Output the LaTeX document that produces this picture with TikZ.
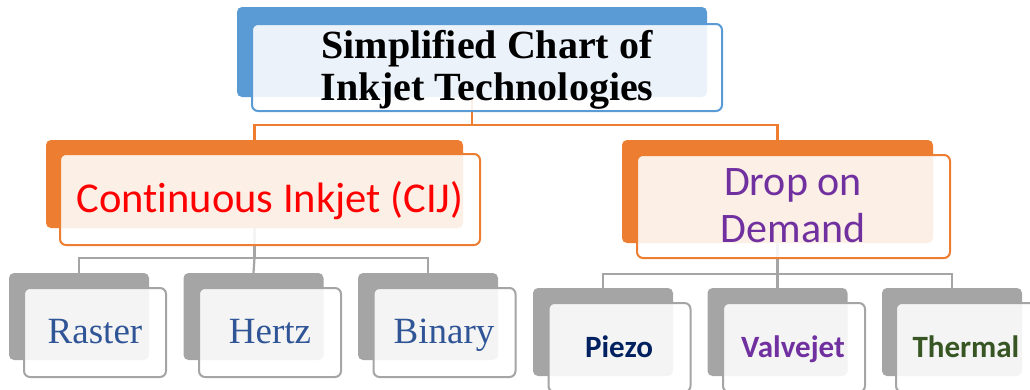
\documentclass[tikz,border=0pt]{standalone}
\usepackage{fontspec}
\setmainfont{Liberation Serif}
\newfontfamily\carlito[Ligatures=NoCommon]{Carlito}
\definecolor{cblue}{HTML}{5B9BD5}
\definecolor{corange}{HTML}{ED7D31}
\definecolor{cgray}{HTML}{A5A5A5}
\definecolor{cleaf}{HTML}{2F5597}
\definecolor{cnavy}{HTML}{002060}
\definecolor{cpurple}{HTML}{7030A0}
\definecolor{cgreen}{HTML}{375623}
\definecolor{cred}{HTML}{FF0000}
\tikzset{
  backbox/.style={rectangle, rounded corners=5pt, inner sep=0pt, fill=#1},
  frontbox/.style={rectangle, rounded corners=6pt, inner sep=0pt, draw=#1, line width=2pt, fill=white, fill opacity=0.88},
  conn/.style={draw=#1, line width=2.2pt},
  lbl/.style={anchor=base, inner sep=0pt},
}
\begin{document}
\begin{tikzpicture}[x=1pt, y=-1pt]
\useasboundingbox (0,0) rectangle (1030,389);
\clip (0,0) rectangle (1030,389);
% back boxes
\node[backbox=cblue, minimum width=470pt, minimum height=90pt] (tb) at (472,52) {};
\node[backbox=corange, minimum width=417pt, minimum height=88pt] (cb) at (254.5,184) {};
\node[backbox=corange, minimum width=311pt, minimum height=103pt] (db) at (777.5,191.5) {};
\node[backbox=cgray, minimum width=140pt, minimum height=87pt] (rb) at (79,316.5) {};
\node[backbox=cgray, minimum width=140pt, minimum height=87pt] (hb) at (253.5,316.5) {};
\node[backbox=cgray, minimum width=140pt, minimum height=87pt] (bb) at (428,316.5) {};
\node[backbox=cgray, minimum width=140pt, minimum height=88pt] (pb) at (603,332) {};
\node[backbox=cgray, minimum width=140pt, minimum height=88pt] (vb) at (777.5,332) {};
\node[backbox=cgray, minimum width=140pt, minimum height=88pt] (thb) at (952,332) {};
% connectors
\draw[conn=corange] (tb.south) -- (tb.south |- 0,125) -| (cb.north);
\draw[conn=corange] (tb.south |- 0,125) -| (db.north);
\draw[conn=cgray] (cb.south) -- (cb.south |- 0,258) -| (rb.north);
\draw[conn=cgray] (cb.south |- 0,258) -| (bb.north);
\draw[conn=cgray] (cb.south |- 0,258) -- (hb.north);
\draw[conn=cgray] (db.south) -- (db.south |- 0,274) -| (pb.north);
\draw[conn=cgray] (db.south |- 0,274) -| (thb.north);
\draw[conn=cgray] (db.south |- 0,274) -- (vb.north);
% front boxes
\node[frontbox=cblue, minimum width=470pt, minimum height=87pt] (tf) at (487,67.5) {};
\node[frontbox=corange, minimum width=420pt, minimum height=91pt] (cf) at (270,199.5) {};
\node[frontbox=corange, minimum width=313pt, minimum height=103pt] (df) at (793.5,206.5) {};
\node[frontbox=cgray, minimum width=142pt, minimum height=89pt] (rf) at (95,332.5) {};
\node[frontbox=cgray, minimum width=142pt, minimum height=89pt] (hf) at (270,332.5) {};
\node[frontbox=cgray, minimum width=142pt, minimum height=89pt] (bf) at (444.5,332.5) {};
\node[frontbox=cgray, minimum width=142pt, minimum height=89pt] (pf) at (619.5,347.5) {};
\node[frontbox=cgray, minimum width=142pt, minimum height=89pt] (vf) at (794,347.5) {};
\node[frontbox=cgray, minimum width=142pt, minimum height=89pt] (thf) at (967,347.5) {};
% texts
\node[lbl] (t1) at (487,58) {\fontsize{40}{48}\selectfont\bfseries Simplified Chart of};
\node[lbl] (t2) at (487,100) {\fontsize{40}{48}\selectfont\bfseries Inkjet Technologies};
\node[lbl, text=cred] (c1) at (270,212) {\carlito\fontsize{42.5}{50}\selectfont Continuous Inkjet (CIJ)};
\node[lbl, text=cpurple] (d1) at (793,195) {\carlito\fontsize{42}{50}\selectfont Drop on};
\node[lbl, text=cpurple] (d2) at (793,242) {\carlito\fontsize{42}{50}\selectfont Demand};
\node[lbl, text=cleaf] (r1) at (95,343) {\fontsize{37}{42}\selectfont Raster};
\node[lbl, text=cleaf] (h1) at (270,343) {\fontsize{37}{42}\selectfont Hertz};
\node[lbl, text=cleaf] (b1) at (444,343) {\fontsize{37}{42}\selectfont Binary};
\node[lbl, text=cnavy] (p1) at (619,357) {\carlito\bfseries\fontsize{31}{36}\selectfont Piezo};
\node[lbl, text=cpurple] (v1) at (793,357) {\carlito\bfseries\fontsize{31}{36}\selectfont Valvejet};
\node[lbl, text=cgreen] (th1) at (966,357) {\carlito\bfseries\fontsize{31}{36}\selectfont Thermal};
\end{tikzpicture}
\end{document}
